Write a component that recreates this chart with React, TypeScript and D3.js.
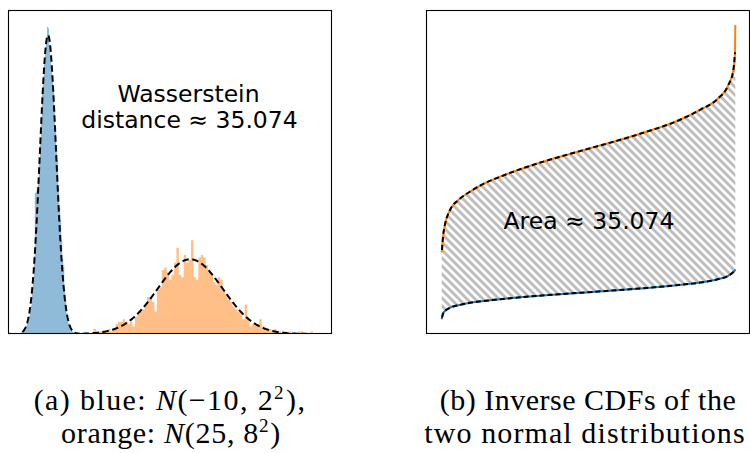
import React from "react";
import * as d3 from "d3";

// ---------- data ----------
const BLUE_BIN_START = -16.5;
const BLUE_BIN_WIDTH = 0.25;
const blueDensity = [
  0.0015, 0.002, 0.003, 0.004, 0.005, 0.007, 0.009, 0.012, 0.016, 0.019,
  0.027, 0.034, 0.052, 0.094, 0.095, 0.098, 0.104, 0.115, 0.128, 0.145,
  0.162, 0.172, 0.18, 0.188, 0.196, 0.205, 0.204, 0.193, 0.186, 0.178,
  0.17, 0.163, 0.15, 0.138, 0.126, 0.116, 0.097, 0.084, 0.076, 0.062,
  0.05, 0.046, 0.03, 0.022, 0.014, 0.009, 0.007, 0.005, 0.003, 0.002,
  0.0015, 0.001,
];

const ORANGE_BIN_START = 0.0;
const ORANGE_BIN_WIDTH = 0.6;
const orangeCounts = [
  0, 0, 2, 0, 1, 1, 1, 1, 2, 1,
  2, 4, 5, 5, 6, 5, 4, 5, 3, 7,
  8, 9, 10, 12, 15, 15, 13, 9, 18, 19,
  26, 27, 25, 22, 24, 29, 35, 24, 23, 32,
  29, 30, 38, 23, 22, 31, 32, 31, 28, 25,
  24, 21, 20, 23, 22, 18, 16, 14, 13, 11,
  10, 9, 9, 6, 12, 6, 3, 4, 4, 4,
  6, 3, 2, 2, 2, 1, 2, 1, 1, 0,
  1, 0, 1, 0, 0, 0, 1, 1, 0, 0,
  0, 1, 0,
];

// normal parameters (from caption)
const means = [-10, 25];
const sds = [2, 8];
const pdfRange = [-16.3, 55.5];

// inverse CDFs (quantile functions)
const quantileP = [0, 0.001, 0.005, 0.011, 0.028, 0.057, 0.096, 0.15, 0.2, 0.3, 0.4, 0.5, 0.6, 0.7, 0.8, 0.88, 0.937, 0.976, 0.993, 0.999, 1];
const orangeQuantiles = [-0.3, 0.3, 3.8, 6.4, 10.0, 12.5, 14.5, 16.7, 18.2, 20.8, 23.0, 25.0, 27.0, 29.2, 31.7, 34.5, 37.0, 40.5, 44.0, 48.5, 55.2];
const blueQuantiles = [-16.6, -16.2, -15.2, -14.6, -13.8, -13.2, -12.6, -12.1, -11.7, -11.05, -10.5, -10.0, -9.5, -8.95, -8.3, -7.65, -6.9, -6.0, -5.1, -4.6, -4.4];

const leftAnnotation = ["Wasserstein", "distance \u2248 35.074"];
const rightAnnotation = "Area \u2248 35.074";
const captionB = ["(b) Inverse CDFs of the", "two normal distributions"];

// ---------- layout ----------
const W = 750;
const H = 453;
const L = { x: 9, y: 11, w: 323, h: 323 };
const R = { x: 427, y: 11, w: 323, h: 323 };

const BLUE = "#1f77b4";
const ORANGE = "#ff7f0e";

function normalPdf(x: number, m: number, s: number) {
  const z = (x - m) / s;
  return Math.exp(-0.5 * z * z) / (s * Math.sqrt(2 * Math.PI));
}

export default function App() {
  // left scales
  const xL = d3.scaleLinear().domain([-19.6, 59.9]).range([L.x, L.x + L.w]);
  const yL = d3.scaleLinear().domain([0, 0.2155]).range([L.y + L.h, L.y]);

  // histogram step areas
  const blueEdges = blueDensity.map((d, i) => ({ x: BLUE_BIN_START + i * BLUE_BIN_WIDTH, y: d }));
  blueEdges.push({ x: BLUE_BIN_START + blueDensity.length * BLUE_BIN_WIDTH, y: 0 });
  const totalOrange = d3.sum(orangeCounts);
  const orangeEdges = orangeCounts.map((c, i) => ({
    x: ORANGE_BIN_START + i * ORANGE_BIN_WIDTH,
    y: c / (totalOrange * ORANGE_BIN_WIDTH),
  }));
  orangeEdges.push({ x: ORANGE_BIN_START + orangeCounts.length * ORANGE_BIN_WIDTH, y: 0 });

  const histArea = d3
    .area<{ x: number; y: number }>()
    .x((d) => xL(d.x))
    .y0(yL(0))
    .y1((d) => yL(d.y))
    .curve(d3.curveStepAfter);

  const xs = d3.range(0, 601).map((i) => pdfRange[0] + ((pdfRange[1] - pdfRange[0]) * i) / 600);
  const pdfLine = d3
    .line<number[]>()
    .x((d) => xL(d[0]))
    .y((d) => yL(d[1]));
  const pdfPaths = means.map((m, k) => pdfLine(xs.map((x) => [x, normalPdf(x, m, sds[k])])));

  // right scales
  const xR = d3.scaleLinear().domain([-0.05, 1.05]).range([R.x, R.x + R.w]);
  const yR = d3.scaleLinear().domain([-20.2, 58.6]).range([R.y + R.h, R.y]);

  const qLine = d3
    .line<number>()
    .x((_, i) => xR(quantileP[i]))
    .y((d) => yR(d))
    .curve(d3.curveMonotoneX);

  const qArea = d3
    .area<number>()
    .x((_, i) => xR(quantileP[i]))
    .y0((_, i) => yR(blueQuantiles[i]))
    .y1((d) => yR(d))
    .curve(d3.curveMonotoneX);

  const dashLine = (vals: number[]) => {
    const idx = d3.range(1, vals.length - 1);
    return d3
      .line<number>()
      .x((i) => xR(quantileP[i]))
      .y((i) => yR(vals[i]))
      .curve(d3.curveMonotoneX)(idx);
  };

  const sans = "'DejaVu Sans', sans-serif";
  const serif = "'Liberation Serif', 'DejaVu Serif', serif";
  const capStyle: React.CSSProperties = { fontFamily: serif, fontSize: 30 };

  return (
    <svg
      width={W}
      height={H}
      viewBox={`0 0 ${W} ${H}`}
      style={{ position: "absolute", left: 0, top: 0, background: "#fff" }}
    >
      <defs>
        <clipPath id="clipL">
          <rect x={L.x} y={L.y} width={L.w} height={L.h} />
        </clipPath>
        <clipPath id="clipR">
          <rect x={R.x} y={R.y} width={R.w} height={R.h} />
        </clipPath>
        <pattern id="hatch" patternUnits="userSpaceOnUse" width={8} height={8}>
          <path d="M-4,4 L4,12 M0,0 L8,8 M4,-4 L12,4" stroke="#bdbdbd" strokeWidth={2.9} />
        </pattern>
      </defs>

      {/* Left panel */}
      <g clipPath="url(#clipL)">
        <path d={histArea(blueEdges) || ""} fill={BLUE} fillOpacity={0.5} />
        <path d={histArea(orangeEdges) || ""} fill={ORANGE} fillOpacity={0.5} />
        {pdfPaths.map((p, i) => (
          <path key={i} d={p || ""} fill="none" stroke="#000" strokeWidth={2} strokeDasharray="6.5,3.5" />
        ))}
      </g>
      <text textAnchor="middle" style={{ fontFamily: sans, fontSize: 23.5 }} fill="#000">
        <tspan x={188.5} y={102}>{leftAnnotation[0]}</tspan>
        <tspan x={189.5} y={128}>{leftAnnotation[1]}</tspan>
      </text>
      <rect x={L.x - 0.5} y={L.y - 0.5} width={L.w} height={L.h} fill="none" stroke="#000" strokeWidth={1.1} />

      {/* Right panel */}
      <g clipPath="url(#clipR)">
        <path d={qArea(orangeQuantiles) || ""} fill="url(#hatch)" stroke="none" />
        <path d={qLine(orangeQuantiles) || ""} fill="none" stroke={ORANGE} strokeWidth={2} />
        <path d={qLine(blueQuantiles) || ""} fill="none" stroke={BLUE} strokeWidth={2} />
        <path d={dashLine(orangeQuantiles) || ""} fill="none" stroke="#000" strokeWidth={2} strokeDasharray="5,3" />
        <path d={dashLine(blueQuantiles) || ""} fill="none" stroke="#000" strokeWidth={2} strokeDasharray="5,3" />
      </g>
      <text x={589} y={229} textAnchor="middle" style={{ fontFamily: sans, fontSize: 23.5 }} fill="#000">
        {rightAnnotation}
      </text>
      <rect x={R.x - 0.5} y={R.y - 0.5} width={R.w} height={R.h} fill="none" stroke="#000" strokeWidth={1.1} />

      {/* Captions */}
      <text x={170} y={410} textAnchor="middle" style={{ ...capStyle, letterSpacing: 1.4 }} fill="#000">
        (a) blue: <tspan fontStyle="italic">N</tspan>(−10, 2<tspan dy={-11} fontSize={19}>2</tspan><tspan dy={11} dx={1}>),</tspan>
      </text>
      <text x={171} y={443} textAnchor="middle" style={{ ...capStyle, letterSpacing: 0.7 }} fill="#000">
        orange: <tspan fontStyle="italic">N</tspan>(25, 8<tspan dy={-11} fontSize={19}>2</tspan><tspan dy={11} dx={1}>)</tspan>
      </text>
      <text x={588} y={410} textAnchor="middle" style={{ ...capStyle, letterSpacing: 0.5 }} fill="#000">
        {captionB[0]}
      </text>
      <text x={585} y={443} textAnchor="middle" style={{ ...capStyle, letterSpacing: 1.1 }} fill="#000">
        {captionB[1]}
      </text>
    </svg>
  );
}
